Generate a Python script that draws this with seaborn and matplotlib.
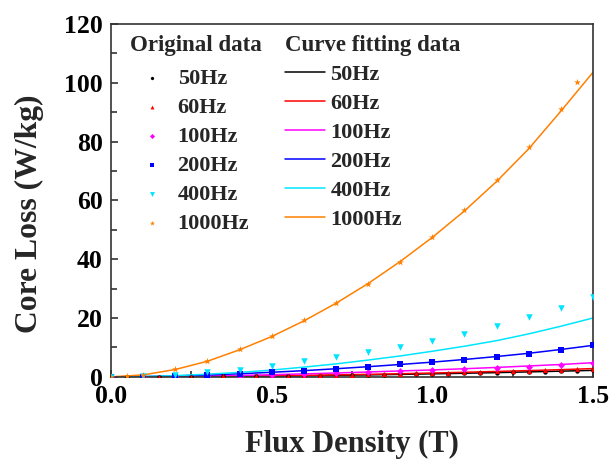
import matplotlib
matplotlib.use('Agg')
import matplotlib.pyplot as plt
import seaborn as sns
from matplotlib.ticker import MultipleLocator, FormatStrFormatter

freqs = ['50Hz', '60Hz', '100Hz', '200Hz', '400Hz', '1000Hz']

# flux density grids (T)
b_fine = [0.0, 0.05, 0.1, 0.15, 0.2, 0.25, 0.3, 0.35, 0.4, 0.45, 0.5, 0.55, 0.6, 0.65, 0.7, 0.75,
          0.8, 0.85, 0.9, 0.95, 1.0, 1.05, 1.1, 1.15, 1.2, 1.25, 1.3, 1.35, 1.4, 1.45, 1.5]
b_step = [0.0, 0.1, 0.2, 0.3, 0.4, 0.5, 0.6, 0.7, 0.8, 0.9, 1.0, 1.1, 1.2, 1.3, 1.4, 1.5]
b_1000 = [0.0, 0.05, 0.1, 0.2, 0.3, 0.4, 0.5, 0.6, 0.7, 0.8, 0.9, 1.0, 1.1, 1.2, 1.3, 1.4, 1.45]

# measured core loss (W/kg)
loss_50 = [0, 0.0, 0.01, 0.03, 0.05, 0.07, 0.10, 0.14, 0.18, 0.22, 0.27, 0.33, 0.38, 0.45, 0.52, 0.59,
           0.67, 0.75, 0.83, 0.92, 1.02, 1.12, 1.22, 1.33, 1.44, 1.56, 1.68, 1.80, 1.93, 2.06, 2.20]
loss_60 = [0, 0.0, 0.02, 0.04, 0.06, 0.09, 0.13, 0.18, 0.23, 0.28, 0.34, 0.42, 0.48, 0.57, 0.66, 0.75,
           0.85, 0.95, 1.05, 1.17, 1.30, 1.42, 1.55, 1.69, 1.83, 1.98, 2.13, 2.29, 2.45, 2.62, 2.80]
loss_100 = [0, 0.03, 0.12, 0.27, 0.45, 0.67, 0.95, 1.25, 1.55, 1.9, 2.2, 2.55, 2.9, 3.4, 4.0, 4.6]
loss_200 = [0, 0.08, 0.3, 0.6, 1.0, 1.5, 2.1, 2.7, 3.4, 4.2, 4.9, 5.8, 6.8, 7.9, 9.2, 10.7]
loss_400 = [0, 0.2, 0.5, 1.5, 2.4, 3.7, 5.3, 6.7, 8.3, 10.2, 12.2, 14.6, 17.3, 20.2, 23.4, 27.2]
loss_1000 = [0, 0.15, 0.7, 2.6, 5.5, 9.4, 13.9, 19.2, 25.2, 31.6, 39.1, 47.5, 56.8, 66.9, 78.1, 91.2, 100.2]

# fitted curves (W/kg) on b_step
fit_50 = [0, 0.01, 0.05, 0.10, 0.18, 0.27, 0.38, 0.52, 0.67, 0.83, 1.02, 1.22, 1.44, 1.68, 1.93, 2.2]
fit_60 = [0, 0.02, 0.06, 0.13, 0.23, 0.34, 0.48, 0.66, 0.85, 1.05, 1.30, 1.55, 1.83, 2.13, 2.45, 2.8]
fit_100 = [0, 0.03, 0.12, 0.27, 0.47, 0.72, 1.0, 1.3, 1.65, 2.0, 2.35, 2.75, 3.2, 3.7, 4.2, 4.8]
fit_200 = [0, 0.08, 0.3, 0.65, 1.05, 1.55, 2.1, 2.75, 3.45, 4.2, 5.0, 5.9, 6.9, 8.0, 9.3, 10.7]
fit_400 = [0, 0.1, 0.4, 0.9, 1.5, 2.3, 3.3, 4.4, 5.7, 7.1, 8.7, 10.4, 12.3, 14.6, 17.2, 20.0]
fit_1000 = [0, 0.65, 2.5, 5.3, 9.2, 13.7, 19.0, 25.0, 31.7, 39.2, 47.4, 56.4, 66.4, 77.5, 90.3, 103.5]

colors = ['#000000', '#ff0000', '#ff00ff', '#0000ff', '#00e5ff', '#ff8000']
markers = ['o', '^', 'D', 's', 'v', '*']
msizes = [10, 14, 12, 13, 22, 26]

measured = [(b_fine, loss_50), (b_fine, loss_60), (b_step, loss_100),
            (b_step, loss_200), (b_step, loss_400), (b_1000, loss_1000)]
fitted = [fit_50, fit_60, fit_100, fit_200, fit_400, fit_1000]

sns.set_theme(style='ticks')
plt.rcParams['font.family'] = ['Liberation Serif', 'DejaVu Serif']
plt.rcParams['font.weight'] = 'bold'

fig = plt.figure(figsize=(6.1, 4.59), dpi=100)
ax = fig.add_axes([0.182, 0.179, 0.79, 0.769])

scat_handles = []
for (x, y), c, m, s in zip(measured, colors, markers, msizes):
    sns.scatterplot(x=x, y=y, color=c, marker=m, s=s, linewidth=0, ax=ax, zorder=3)
    scat_handles.append(ax.collections[-1])

line_handles = []
for y, c in zip(fitted, colors):
    sns.lineplot(x=b_step, y=y, color=c, linewidth=1.1, ax=ax, zorder=2)
    line_handles.append(ax.lines[-1])

ax.set_xlim(0, 1.5)
ax.set_ylim(0, 120)
ax.xaxis.set_major_locator(MultipleLocator(0.5))
ax.xaxis.set_minor_locator(MultipleLocator(0.25))
ax.xaxis.set_major_formatter(FormatStrFormatter('%.1f'))
ax.yaxis.set_major_locator(MultipleLocator(20))
ax.yaxis.set_minor_locator(MultipleLocator(10))
ax.tick_params(which='both', direction='in', colors='#222222', labelcolor='black',
               labelsize=18.5, pad=6, width=1.1)
ax.tick_params(which='major', length=5)
ax.tick_params(which='minor', length=4)
for lab in ax.get_xticklabels() + ax.get_yticklabels():
    lab.set_fontweight('bold')
for sp in ax.spines.values():
    sp.set_visible(True)
    sp.set_linewidth(1.2)
    sp.set_color('#333333')

ax.set_xlabel('Flux Density (T)', fontsize=22, fontweight='bold', labelpad=15.5)
ax.set_ylabel('Core Loss (W/kg)', fontsize=22.8, fontweight='bold')
ax.yaxis.set_label_coords(-0.14, 0.462)

leg_kw = dict(loc='upper left', frameon=False, alignment='left', borderpad=0, borderaxespad=0,
              prop={'size': 16, 'weight': 'bold'}, labelspacing=0.38,
              title_fontproperties={'size': 16.5, 'weight': 'bold'})
leg1 = ax.legend(scat_handles, freqs, title='Original data', bbox_to_anchor=(0.039, 0.968),
                 handlelength=2.0, handletextpad=0.15, markerscale=0.75, **leg_kw)
leg1._legend_box.sep += 2.5  # left block starts a bit lower under its title
ax.add_artist(leg1)
ax.legend(line_handles, freqs, title='Curve fitting data', bbox_to_anchor=(0.361, 0.968),
          handlelength=1.8, handletextpad=0.25, **leg_kw)

fig.savefig('out.png', dpi=100)
plt.close(fig)
